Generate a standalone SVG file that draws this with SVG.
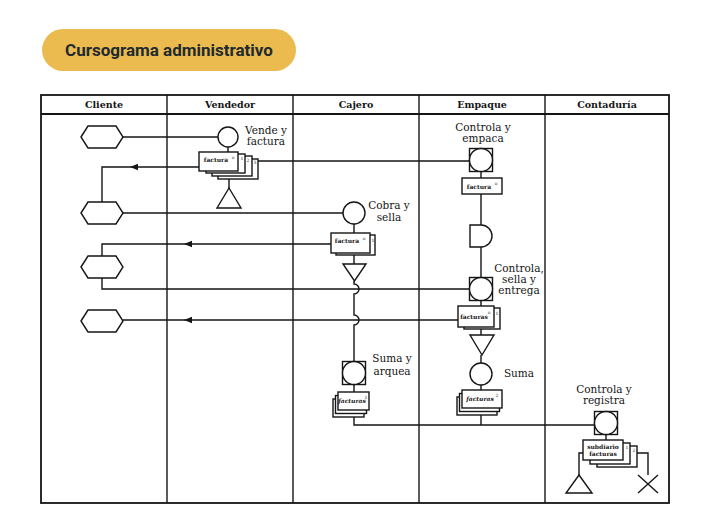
<svg xmlns="http://www.w3.org/2000/svg" xmlns:xlink="http://www.w3.org/1999/xlink" width="709" height="528" viewBox="0 0 709 528">
<style>
.ln{stroke:#151515;stroke-width:1.4;fill:none}
.sh{stroke:#151515;stroke-width:1.4;fill:#fff}
.fr{stroke:#151515;stroke-width:1.8;fill:none}
.hd{font-family:"DejaVu Serif",serif;font-weight:bold;font-size:9.5px;fill:#151515;text-anchor:middle}
.lb{font-family:"DejaVu Serif",serif;font-size:10.5px;fill:#151515;text-anchor:middle}
.dt{font-family:"DejaVu Serif",serif;font-size:6px;font-weight:bold;fill:#151515;text-anchor:middle}
.tb{font-family:"DejaVu Serif",serif;font-size:4.5px;fill:#151515;text-anchor:middle}
.ti{font-family:Roboto,"Liberation Sans",sans-serif;font-weight:bold;font-size:17px;fill:#1e2a2f;text-anchor:middle}
</style>
<defs>
<path id="ah" d="M0 0 L8 -3.2 L8 3.2 Z" fill="#151515"/>
<path id="hex" d="M-21 0 L-14 -11 L14 -11 L21 0 L14 11 L-14 11 Z" class="sh"/>
</defs>
<rect width="709" height="528" fill="#fff"/>
<g id="title">
<rect x="42" y="29" width="254" height="42" rx="21" fill="#ecbb50"/>
<text x="169" y="56" class="ti">Cursograma administrativo</text>
</g>
<g id="frame">
<rect x="41" y="95" width="628" height="408" class="fr"/>
<line x1="41" y1="114" x2="669" y2="114" class="fr"/>
<line x1="167" y1="95" x2="167" y2="503" class="ln"/>
<line x1="293" y1="95" x2="293" y2="503" class="ln"/>
<line x1="419" y1="95" x2="419" y2="503" class="ln"/>
<line x1="545" y1="95" x2="545" y2="503" class="ln"/>
<text x="104" y="108" class="hd">Cliente</text>
<text x="230" y="108" class="hd">Vendedor</text>
<text x="356" y="108" class="hd">Cajero</text>
<text x="482" y="108" class="hd">Empaque</text>
<text x="607" y="108" class="hd">Contaduría</text>
</g>
<g id="connectors">
<path class="ln" d="M123 137 H218"/>
<path class="ln" d="M199 167 H102 V202"/>
<use href="#ah" x="130" y="167"/>
<path class="ln" d="M257 161 H470"/>
<path class="ln" d="M123 213 H343"/>
<path class="ln" d="M331 244 H102 V256"/>
<use href="#ah" x="184" y="244"/>
<path class="ln" d="M470 289 H102 V278"/>
<path class="ln" d="M458 320 H123"/>
<use href="#ah" x="184" y="320"/>
<path class="ln" d="M228 147 V152 M229 175 V188"/>
<path class="ln" d="M354 224 V233 M354 255 V264"/>
<path class="ln" d="M354 281 V284 A5 5 0 0 1 354 294 V315 A5 5 0 0 1 354 325 V362 M354 385 V392 M354 417 V425 H594"/>
<path class="ln" d="M481 171 V178 M481 194 V225 M481 247 V277 M481 300 V306 M481 329 V335 M481 355 V363 M481 385 V390 M481 415 V425"/>
<path class="ln" d="M606 435 V440 M583 453 H579 V475 M630 453 H648 V475"/>
</g>
<g id="cliente-1"><use href="#hex" x="102" y="137"/></g>
<g id="cliente-2"><use href="#hex" x="102" y="213"/></g>
<g id="cliente-3"><use href="#hex" x="102" y="267"/></g>
<g id="cliente-4"><use href="#hex" x="102" y="321"/></g>
<g id="vende-factura">
<circle cx="228" cy="137" r="10" class="sh"/>
<text x="266" y="134" class="lb">Vende y</text>
<text x="266" y="145" class="lb">factura</text>
</g>
<g id="vendedor-docs">
<rect x="218" y="159" width="40" height="20" class="sh"/>
<rect x="212" y="156" width="40" height="20" class="sh"/>
<rect x="206" y="154" width="39" height="19" class="sh"/>
<rect x="199" y="152" width="39" height="19" class="sh"/>
<text x="216" y="162" class="dt">factura</text>
<text x="233" y="159" class="tb">o</text>
<text x="242" y="160" class="tb">1</text>
<text x="248" y="162" class="tb">2</text>
<text x="255" y="164" class="tb">3</text>
</g>
<g id="vendedor-archivo"><path class="sh" d="M229 188 L241 208 L217 208 Z"/></g>
<g id="cobra-sella">
<circle cx="354" cy="213" r="11" class="sh"/>
<text x="389" y="209" class="lb">Cobra y</text>
<text x="389" y="221" class="lb">sella</text>
</g>
<g id="cajero-doc">
<rect x="336" y="235" width="39" height="20" class="sh"/>
<rect x="331" y="233" width="39" height="20" class="sh"/>
<text x="347" y="243" class="dt">factura</text>
<text x="364" y="240" class="tb">o</text>
<text x="373" y="242" class="tb">1</text>
</g>
<g id="cajero-archivo"><path class="sh" d="M343 264 L366 264 L354.5 281 Z"/></g>
<g id="suma-arquea">
<rect x="342.5" y="361.5" width="23" height="23" class="sh"/>
<circle cx="354" cy="373" r="11.5" class="sh"/>
<text x="392" y="362" class="lb">Suma y</text>
<text x="392" y="375" class="lb">arquea</text>
</g>
<g id="cajero-facturas">
<rect x="333" y="399" width="31" height="18" class="sh"/>
<rect x="335.5" y="395.5" width="31" height="18" class="sh"/>
<rect x="338" y="392" width="31" height="18" class="sh"/>
<text x="352" y="403" class="dt" font-style="italic">facturas</text>
<text x="366" y="399" class="tb">1</text>
</g>
<g id="controla-empaca">
<rect x="469.5" y="148.5" width="23" height="23" class="sh"/>
<circle cx="481" cy="160" r="11.5" class="sh"/>
<text x="483" y="131" class="lb">Controla y</text>
<text x="483" y="142" class="lb">empaca</text>
</g>
<g id="empaque-doc-1">
<rect x="462" y="178" width="40" height="16" class="sh"/>
<text x="479" y="189" class="dt">factura</text>
<text x="496" y="185" class="tb">o</text>
</g>
<g id="empaque-demora"><path class="sh" d="M470 225 H481 A11 11 0 0 1 481 247 H470 Z"/></g>
<g id="controla-sella-entrega">
<rect x="469.5" y="277.5" width="23" height="23" class="sh"/>
<circle cx="481" cy="289" r="11.5" class="sh"/>
<text x="519" y="272" class="lb">Controla,</text>
<text x="519" y="283" class="lb">sella y</text>
<text x="519" y="294" class="lb">entrega</text>
</g>
<g id="empaque-doc-2">
<rect x="464" y="308" width="36" height="21" class="sh"/>
<rect x="458" y="306" width="36" height="21" class="sh"/>
<text x="474" y="319" class="dt">facturas</text>
<text x="489" y="314" class="tb">o</text>
<text x="497" y="315" class="tb">1</text>
</g>
<g id="empaque-archivo"><path class="sh" d="M470 335 L494 335 L482 355 Z"/></g>
<g id="suma">
<circle cx="481" cy="374" r="11" class="sh"/>
<text x="519" y="377" class="lb">Suma</text>
</g>
<g id="empaque-facturas">
<rect x="457" y="397" width="40" height="18" class="sh"/>
<rect x="459.5" y="393.5" width="40" height="18" class="sh"/>
<rect x="462" y="390" width="40" height="18" class="sh"/>
<text x="480" y="401" class="dt" font-style="italic">facturas</text>
<text x="497" y="397" class="tb">2</text>
</g>
<g id="controla-registra">
<rect x="594.5" y="411.5" width="23" height="23" class="sh"/>
<circle cx="606" cy="423" r="11.5" class="sh"/>
<text x="604" y="393" class="lb">Controla y</text>
<text x="604" y="404" class="lb">registra</text>
</g>
<g id="contaduria-docs">
<rect x="597" y="446" width="40" height="21" class="sh"/>
<rect x="590" y="443" width="40" height="21" class="sh"/>
<rect x="583" y="440" width="40" height="20" class="sh"/>
<text x="603" y="449" class="dt">subdiario</text>
<text x="603" y="456" class="dt">facturas</text>
<text x="627" y="449" class="tb">1</text>
<text x="634" y="452" class="tb">2</text>
</g>
<g id="contaduria-archivo"><path class="sh" d="M579 475 L592 493 L566 493 Z"/></g>
<g id="contaduria-destruccion"><path class="ln" d="M638 475 L658 493 M658 475 L638 493"/></g>
</svg>
